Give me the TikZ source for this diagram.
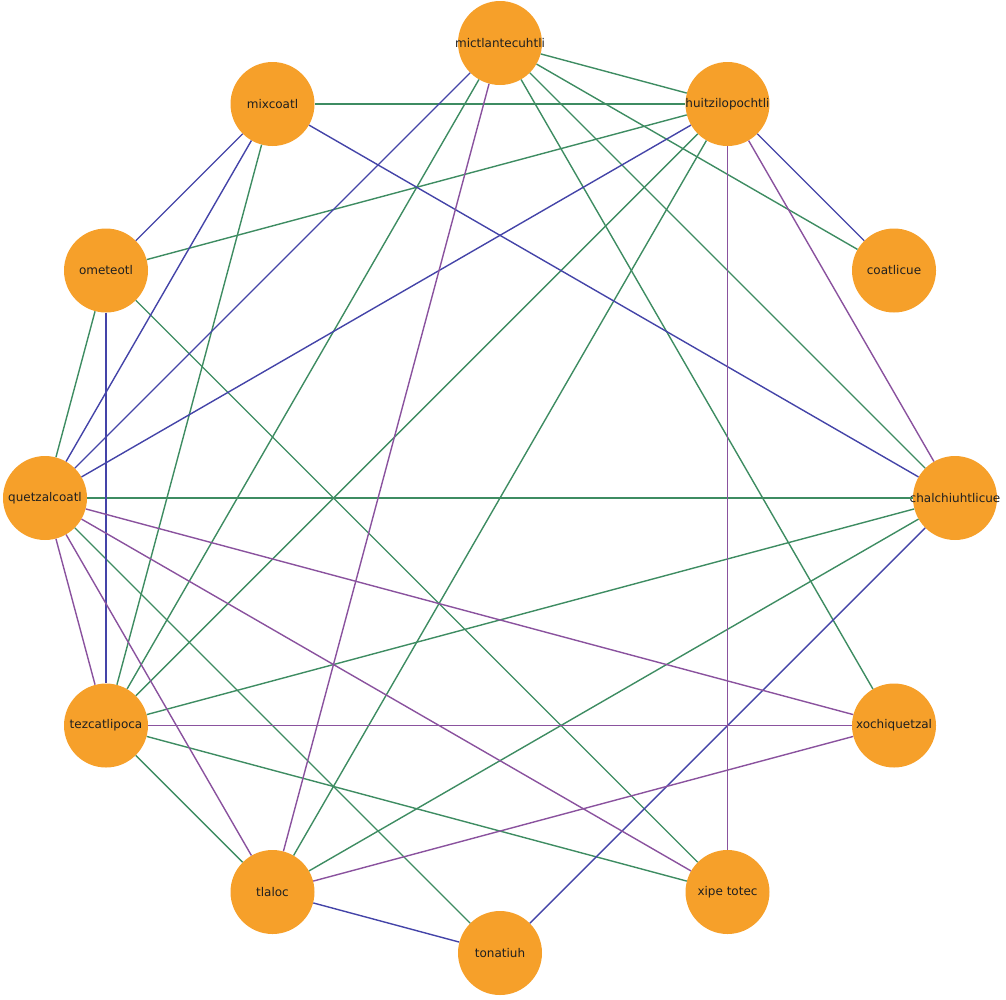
\documentclass[tikz,border=0pt]{standalone}
\usepackage{fontspec}
\setmainfont{DejaVu Sans}
\definecolor{nodeor}{RGB}{246,160,42}
\definecolor{eg}{RGB}{62,140,98}
\definecolor{eb}{RGB}{68,68,168}
\definecolor{ep}{RGB}{138,82,158}
\tikzset{
  god/.style={circle, fill=nodeor, draw=none, minimum size=84pt, inner sep=0pt,
    font=\fontsize{12}{14}\selectfont, text=black!88},
  eg/.style={draw=eg, line width=1.4pt},
  eb/.style={draw=eb, line width=1.4pt},
  ep/.style={draw=ep, line width=1.4pt}
}
\newcommand{\lbl}[1]{\makebox[0pt]{#1}}
\begin{document}
\begin{tikzpicture}[x=1pt,y=-1pt]
\useasboundingbox (0,0) rectangle (1006,999);
\node[god] (M)  at (500,43)     {\lbl{mictlantecuhtli}};
\node[god] (H)  at (727.5,104)  {\lbl{huitzilopochtli}};
\node[god] (C)  at (894,270.5)  {\lbl{coatlicue}};
\node[god] (Ch) at (955,498)    {\lbl{chalchiuhtlicue}};
\node[god] (Xo) at (894,725.5)  {\lbl{xochiquetzal}};
\node[god] (Xp) at (727.5,892)  {\lbl{xipe totec}};
\node[god] (To) at (500,953)    {\lbl{tonatiuh}};
\node[god] (Tl) at (272.5,892)  {\lbl{tlaloc}};
\node[god] (T)  at (106,725.5)  {\lbl{tezcatlipoca}};
\node[god] (Q)  at (45,498)     {\lbl{quetzalcoatl}};
\node[god] (O)  at (106,270.5)  {\lbl{ometeotl}};
\node[god] (X)  at (272.5,104)  {\lbl{mixcoatl}};
% green edges
\foreach \a/\b in {M/H, M/T, M/Xo, M/Ch, M/C, H/X, H/O, H/T, H/Tl, X/T, O/Xp, O/Q, Q/Ch, Q/To, T/Ch, T/Xp, T/Tl, Ch/Tl}
  \draw[eg] (\a) -- (\b);
% blue edges
\foreach \a/\b in {M/Q, H/Q, H/C, X/Ch, X/O, X/Q, O/T, Ch/To, Tl/To}
  \draw[eb] (\a) -- (\b);
% purple edges
\foreach \a/\b in {M/Tl, H/Xp, H/Ch, Q/Xo, Q/Xp, Q/Tl, Q/T, T/Xo, Tl/Xo}
  \draw[ep] (\a) -- (\b);
\end{tikzpicture}
\end{document}
